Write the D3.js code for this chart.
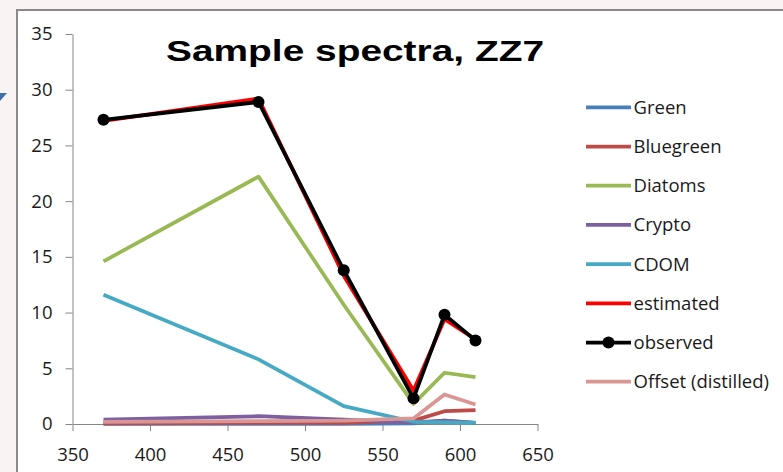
<!DOCTYPE html>
<html>
<head>
<meta charset="utf-8">
<script src="https://cdn.jsdelivr.net/npm/d3@7"></script>
<style>
html,body{margin:0;padding:0;background:#f9f3f3;}
svg{display:block;}
</style>
</head>
<body>
<script>
const wavelengths = [370, 470, 525, 570, 590, 610];
const green      = [0.02, 0.02, 0.02, 0.05, 0.3, 0.1];
const bluegreen  = [0.05, 0.1, 0.1, 0.3, 1.15, 1.25];
const diatoms    = [14.6, 22.2, 10.7, 1.8, 4.6, 4.2];
const crypto     = [0.4, 0.7, 0.4, 0.15, 0.3, 0.1];
const cdom       = [11.6, 5.8, 1.6, 0.2, 0.15, 0.1];
const estimated  = [27.2, 29.2, 13.3, 3.0, 9.4, 7.6];
const observed   = [27.3, 28.9, 13.8, 2.3, 9.8, 7.5];
const offset     = [0.2, 0.25, 0.3, 0.5, 2.65, 1.75];
const xTicks = [350, 400, 450, 500, 550, 600, 650];
const yTicks = [0, 5, 10, 15, 20, 25, 30, 35];
const title = "Sample spectra, ZZ7";

const seriesList = [
  {name: "Green", values: green, color: "#4a7ebb"},
  {name: "Bluegreen", values: bluegreen, color: "#be4b48"},
  {name: "Diatoms", values: diatoms, color: "#98b954"},
  {name: "Crypto", values: crypto, color: "#7d60a0"},
  {name: "CDOM", values: cdom, color: "#46aac5"},
  {name: "estimated", values: estimated, color: "#ff0000"},
  {name: "observed", values: observed, color: "#000000", marker: true},
  {name: "Offset (distilled)", values: offset, color: "#d99694"}
];

const W = 783, H = 472;
const svg = d3.select("body").append("svg").attr("width", W).attr("height", H);

// outer background and chart frame
svg.append("rect").attr("x",0).attr("y",0).attr("width",W).attr("height",H).attr("fill","#f9f3f3");
svg.append("rect").attr("x",17).attr("y",10).attr("width",W).attr("height",H)
  .attr("fill","#ffffff").attr("stroke","#898989").attr("stroke-width",2);
svg.append("path").attr("d","M0,93L7,93L0,101Z").attr("fill","#3c6ea8");

const x = d3.scaleLinear().domain([350, 650]).range([72.5, 537.5]);
const y = d3.scaleLinear().domain([0, 35]).range([424, 34]);

const font = "'Open Sans', Lato, sans-serif";

const xAxis = svg.append("g").attr("transform", "translate(0,424)")
  .call(d3.axisBottom(x).tickValues(xTicks).tickSize(7).tickSizeOuter(0).tickPadding(17));
const yAxis = svg.append("g").attr("transform", "translate(72.5,0)")
  .call(d3.axisLeft(y).tickValues(yTicks).tickSize(7).tickSizeOuter(0).tickPadding(13));
[xAxis, yAxis].forEach(a => {
  a.select(".domain").attr("stroke", "#868686").attr("stroke-width", 1);
  a.selectAll(".tick line").attr("stroke", "#868686");
  a.selectAll(".tick text").attr("fill", "#1a1a1a").style("font-family", font).style("font-size", "18.5px");
});

const line = d3.line().x((d, i) => x(wavelengths[i])).y(d => y(d));

const plot = svg.append("g");
seriesList.forEach(s => {
  plot.append("path").datum(s.values)
    .attr("d", line).attr("fill", "none")
    .attr("stroke", s.color).attr("stroke-width", 3.75)
    .attr("stroke-linejoin", "round").attr("stroke-linecap", "butt");
  if (s.marker) {
    plot.selectAll(null).data(s.values).enter().append("circle")
      .attr("cx", (d, i) => x(wavelengths[i])).attr("cy", d => y(d))
      .attr("r", 6).attr("fill", s.color);
  }
});

// title
svg.append("text").attr("x", 166).attr("y", 61)
  .attr("textLength", 378).attr("lengthAdjust", "spacingAndGlyphs")
  .style("font-family", "'Liberation Sans', Arial, sans-serif").style("font-weight", "bold")
  .style("font-size", "29px").attr("fill", "#000").text(title);

// legend
const legend = svg.append("g");
seriesList.forEach((s, i) => {
  const ly = 107.3 + i * 39.2;
  legend.append("line").attr("x1", 586).attr("x2", 631).attr("y1", ly).attr("y2", ly)
    .attr("stroke", s.color).attr("stroke-width", 3.75);
  if (s.marker) {
    legend.append("circle").attr("cx", 608.5).attr("cy", ly).attr("r", 6).attr("fill", s.color);
  }
  legend.append("text").attr("x", 633.5).attr("y", ly).attr("dy", "0.35em")
    .style("font-family", font).style("font-size", "18.5px").attr("fill", "#1a1a1a").text(s.name);
});
</script>
</body>
</html>
